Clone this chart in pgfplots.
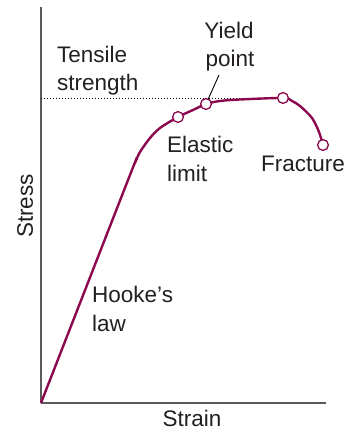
\documentclass[border=0pt]{standalone}
\usepackage{pgfplots}
\pgfplotsset{compat=1.18}
\usepackage{fontspec}
\setmainfont{Liberation Sans}
\definecolor{curvecol}{RGB}{139,8,78}
\definecolor{txt}{RGB}{35,31,32}
\definecolor{axcol}{RGB}{90,90,90}
\tikzset{lbl/.style={font=\fontsize{22.5bp}{27bp}\selectfont, text=txt, inner sep=0pt}}
\begin{document}
\begin{tikzpicture}
\path[use as bounding box] (-41bp,-28bp) rectangle (317bp,403bp);
\begin{axis}[
  scale only axis, width=285bp, height=396bp,
  xmin=0, xmax=285, ymin=0, ymax=396,
  anchor=south west, at={(0,0)},
  axis lines=left,
  axis line style={draw=axcol, line width=1.2bp, -},
  xtick=\empty, ytick=\empty,
  clip=false,
]
\addplot[draw=black, line width=0.9bp, dash pattern=on 0.9bp off 2.1bp] coordinates {(0,305) (242,305)};
\addplot[draw=black, line width=0.9bp] coordinates {(165,299) (178,328)};
\addplot[draw=curvecol, line width=2.4bp, smooth, tension=0.5] coordinates {
 (0,0) (89,228) (94,240) (99,251) (109,265) (119,275) (137,286) (152,293) (165,299)
 (179,302) (199,303.5) (242,305) (251,302) (259,297) (271,285) (278,271) (282,258)};
\addplot[only marks, mark=*, mark size=5.4bp, mark options={fill=white, draw=curvecol, line width=1.3bp}] coordinates {
 (137,286) (165,299) (242,305) (282,258)};
\node[lbl, anchor=base west] at (axis cs:16,340) {Tensile};
\node[lbl, anchor=base west] at (axis cs:16,312) {strength};
\node[lbl, anchor=base] at (axis cs:188,364) {Yield};
\node[lbl, anchor=base] at (axis cs:189,336) {point};
\node[lbl, anchor=base west] at (axis cs:126,250) {Elastic};
\node[lbl, anchor=base west] at (axis cs:126,221) {limit};
\node[lbl, anchor=base west] at (axis cs:220,231) {Fracture};
\node[lbl, anchor=base west] at (axis cs:51,100) {Hooke’s};
\node[lbl, anchor=base west] at (axis cs:51,71) {law};
\node[lbl, anchor=base] at (axis cs:151,-23) {Strain};
\node[lbl, anchor=base, rotate=90] at (axis cs:-8,197) {Stress};
\end{axis}
\end{tikzpicture}
\end{document}
